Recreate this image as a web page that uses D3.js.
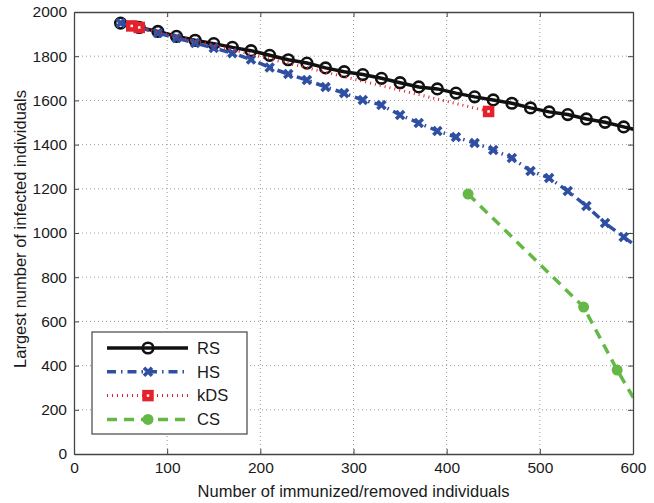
<!DOCTYPE html>
<html><head><meta charset="utf-8">
<script src="https://cdn.jsdelivr.net/npm/d3@7"></script>
<style>
body{margin:0;background:#fff;}
svg{display:block;font-family:"Liberation Sans",Arial,sans-serif;}
</style></head>
<body><svg id="c" width="654" height="503"></svg>
<script>
const xTicks = [0,100,200,300,400,500,600];
const yTicks = [0,200,400,600,800,1000,1200,1400,1600,1800,2000];
const seriesNames = ["RS","HS","kDS","CS"];
const rsX = [50,70,90,110,130,150,170,190,210,230,250,270,290,310,330,350,370,390,410,430,450,470,490,510,530,550,570,590,610];
const rsY = [1950,1930,1912,1890,1872,1857,1840,1825,1804,1784,1769,1747,1730,1717,1700,1680,1661,1652,1633,1616,1602,1587,1566,1548,1536,1516,1501,1480,1460];
const hsX = [50,70,90,110,130,150,170,190,210,230,250,270,290,310,330,350,370,390,410,430,450,470,490,510,530,550,570,590,610];
const hsY = [1950,1930,1905,1882,1860,1837,1814,1785,1749,1719,1692,1661,1633,1602,1579,1534,1498,1462,1434,1407,1376,1339,1281,1249,1190,1122,1045,982,920];
const kdsX = [62,70,445];
const kdsY = [1937,1930,1550];
const csX = [423,547,583,615];
const csY = [1176,665,380,150];

const svg = d3.select("#c");
const L=74,R=633,T=12,B=454;
const x = d3.scaleLinear().domain([0,600]).range([L,R]);
const y = d3.scaleLinear().domain([0,2000]).range([B,T]);

svg.append("defs").append("clipPath").attr("id","clip")
  .append("rect").attr("x",L).attr("y",T).attr("width",R-L).attr("height",B-T);

// grid
const grid = svg.append("g").attr("stroke","#9a9a9a").attr("stroke-width",1).attr("stroke-dasharray","1,3");
xTicks.slice(1,-1).forEach(t=>grid.append("line").attr("x1",x(t)).attr("x2",x(t)).attr("y1",T).attr("y2",B));
yTicks.slice(1,-1).forEach(t=>grid.append("line").attr("y1",y(t)).attr("y2",y(t)).attr("x1",L).attr("x2",R));

// axes
const fs = 15.5;
const fmt = d3.format("d");
const ax = svg.append("g").attr("transform",`translate(0,${B})`)
  .call(d3.axisBottom(x).tickValues(xTicks).tickFormat(fmt).tickSizeInner(-5).tickSizeOuter(0).tickPadding(8));
const ay = svg.append("g").attr("transform",`translate(${L},0)`)
  .call(d3.axisLeft(y).tickValues(yTicks).tickFormat(fmt).tickSizeInner(-5).tickSizeOuter(0).tickPadding(7));
const at = svg.append("g").attr("transform",`translate(0,${T})`)
  .call(d3.axisTop(x).tickValues(xTicks).tickSizeInner(-5).tickSizeOuter(0).tickFormat(""));
const ar = svg.append("g").attr("transform",`translate(${R},0)`)
  .call(d3.axisRight(y).tickValues(yTicks).tickSizeInner(-5).tickSizeOuter(0).tickFormat(""));
[ax,ay,at,ar].forEach(g=>{
  g.select(".domain").attr("stroke","#444").attr("stroke-width",1.3);
  g.selectAll(".tick line").attr("stroke","#444");
  g.selectAll("text").attr("font-size",fs).attr("fill","#1a1a1a").attr("font-family","Liberation Sans, Arial, sans-serif");
});

svg.append("text").attr("x",(L+R)/2).attr("y",497).attr("text-anchor","middle")
  .attr("font-size",16.5).attr("fill","#1a1a1a").text("Number of immunized/removed individuals");
svg.append("text").attr("transform",`translate(26,${(T+B)/2 - 4}) rotate(-90)`).attr("text-anchor","middle")
  .attr("font-size",16.5).attr("fill","#1a1a1a").text("Largest number of infected individuals");

const cols = {RS:"#111111",HS:"#2f4fa3",kDS:"#e5222b",CS:"#63b846"};
const styles = {
  RS:{w:3.5,dash:null},
  HS:{w:3.5,dash:"9,5,1.5,5"},
  kDS:{w:3,dash:"1,4"},
  CS:{w:3.5,dash:"10,7"}
};
const line = d3.line().x(d=>x(d[0])).y(d=>y(d[1]));
const plot = svg.append("g").attr("clip-path","url(#clip)");

function marker(g,name,px,py){
  const c = cols[name];
  if(name==="RS") g.append("circle").attr("cx",px).attr("cy",py).attr("r",5.3).attr("fill","none").attr("stroke",c).attr("stroke-width",2.6);
  else if(name==="HS") g.append("path").attr("d",`M${px-4},${py-4}L${px+4},${py+4}M${px-4},${py+4}L${px+4},${py-4}`).attr("stroke",c).attr("stroke-width",3.6).attr("fill","none");
  else if(name==="kDS") g.append("rect").attr("x",px-3.5).attr("y",py-3.5).attr("width",7).attr("height",7).attr("fill","#fff").attr("stroke",c).attr("stroke-width",4.5);
  else g.append("circle").attr("cx",px).attr("cy",py).attr("r",5.5).attr("fill",c);
}

const data = {
  RS: rsX.map((v,i)=>[v,rsY[i]]),
  HS: hsX.map((v,i)=>[v,hsY[i]]),
  kDS: kdsX.map((v,i)=>[v,kdsY[i]]),
  CS: csX.map((v,i)=>[v,csY[i]])
};
seriesNames.forEach(n=>{
  const g = plot.append("g");
  g.append("path").datum(data[n]).attr("d",line).attr("fill","none")
    .attr("stroke",cols[n]).attr("stroke-width",styles[n].w)
    .attr("stroke-dasharray",styles[n].dash);
  data[n].forEach(d=>marker(g,n,x(d[0]),y(d[1])));
});

// legend
const lg = svg.append("g");
lg.append("rect").attr("x",92).attr("y",332).attr("width",155).attr("height",102)
  .attr("fill","#fff").attr("stroke","#444").attr("stroke-width",1.2);
seriesNames.forEach((n,i)=>{
  const yy = 348 + i*23.8;
  lg.append("line").attr("x1",107).attr("x2",188).attr("y1",yy).attr("y2",yy)
    .attr("stroke",cols[n]).attr("stroke-width",styles[n].w).attr("stroke-dasharray",styles[n].dash);
  marker(lg,n,148,yy);
  lg.append("text").attr("x",197).attr("y",yy).attr("dy","0.35em").attr("font-size",16.5).attr("fill","#1a1a1a").text(n);
});
</script></body></html>
